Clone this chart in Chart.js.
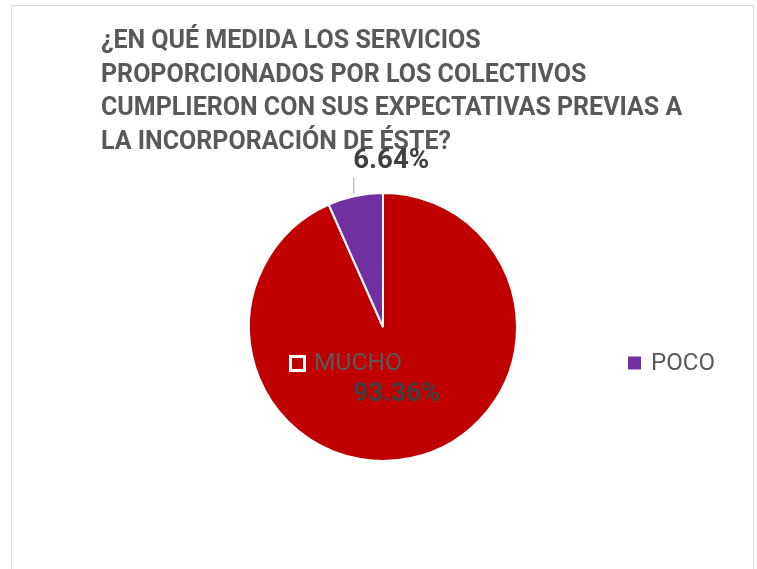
<!DOCTYPE html>
<html>
<head>
<meta charset="utf-8">
<script src="https://cdn.jsdelivr.net/npm/chart.js@4.4.1/dist/chart.umd.min.js"></script>
<style>
  html, body { margin: 0; padding: 0; background: #fff; }
  #wrap { position: relative; width: 757px; height: 569px; }
</style>
</head>
<body>
<div id="wrap"><canvas id="chartPie" width="757" height="569"></canvas></div>
<script>
// データ
const categories = ['MUCHO', 'POCO'];
const values = [93.36, 6.64];
const colors = ['#C00000', '#7030A0'];
const titleLines = [
  '¿EN QUÉ MEDIDA LOS SERVICIOS',
  'PROPORCIONADOS POR LOS COLECTIVOS',
  'CUMPLIERON CON SUS EXPECTATIVAS PREVIAS A',
  'LA INCORPORACIÓN DE ÉSTE?'
];

const FAMILY = 'Roboto, "Noto Sans", sans-serif';

// 幅に合わせてフォントサイズを決める
function fitFont(ctx, text, weight, width) {
  ctx.font = weight + ' 20px ' + FAMILY;
  const size = 20 * width / ctx.measureText(text).width;
  return weight + ' ' + size.toFixed(1) + 'px ' + FAMILY;
}

// 枠とタイトル
const framePlugin = {
  id: 'frame',
  beforeDraw(chart) {
    const ctx = chart.ctx;
    ctx.save();
    ctx.fillStyle = '#fff';
    ctx.fillRect(0, 0, chart.width, chart.height);
    ctx.strokeStyle = '#d9d9d9';
    ctx.lineWidth = 1;
    ctx.strokeRect(11.5, 5.5, 742, 600);
    ctx.font = fitFont(ctx, titleLines[2], 'bold', 582);
    ctx.fillStyle = '#595959';
    ctx.textBaseline = 'middle';
    ctx.textAlign = 'left';
    titleLines.forEach((line, i) => ctx.fillText(line, 101, 42 + i * 33.5));
    ctx.restore();
  }
};

// データラベルと凡例
const labelPlugin = {
  id: 'labels',
  afterDraw(chart) {
    const ctx = chart.ctx;
    const meta = chart.getDatasetMeta(0);
    ctx.save();
    meta.data.forEach((arc, i) => {
      const text = values[i].toFixed(2) + '%';
      ctx.fillStyle = '#404040';
      ctx.textBaseline = 'middle';
      const mid = (arc.startAngle + arc.endAngle) / 2;
      if (values[i] > 20) {
        const p = arc.getCenterPoint();
        ctx.font = fitFont(ctx, text, 'bold', 87);
        ctx.textAlign = 'center';
        ctx.fillText(text, p.x, p.y + 2);
      } else {
        const px = arc.x + Math.cos(mid) * arc.outerRadius;
        const py = arc.y + Math.sin(mid) * arc.outerRadius;
        ctx.strokeStyle = '#a6a6a6';
        ctx.lineWidth = 1;
        ctx.beginPath();
        ctx.moveTo(px - 1.5, py - 2);
        ctx.lineTo(px - 1.5, py - 18);
        ctx.stroke();
        ctx.font = fitFont(ctx, text, 'bold', 76);
        ctx.textAlign = 'left';
        ctx.fillText(text, px - 2, py - 35);
      }
    });

    // 凡例
    const ca = chart.chartArea;
    const ly = ca.top + ca.height / 2 + 36;
    ctx.textAlign = 'left';
    ctx.textBaseline = 'middle';
    // MUCHO
    let x = ca.left + 41;
    ctx.fillStyle = colors[0];
    ctx.fillRect(x, ly - 8, 17, 17);
    ctx.strokeStyle = '#ffffff';
    ctx.lineWidth = 3;
    ctx.strokeRect(x + 1.5, ly - 6.5, 14, 14);
    ctx.fillStyle = '#595959';
    ctx.font = fitFont(ctx, categories[0], 'normal', 88);
    ctx.fillText(categories[0], x + 25, ly + 1);
    // POCO
    x = ca.right + 110;
    ctx.fillStyle = colors[1];
    ctx.fillRect(x, ly - 6.5, 13, 13);
    ctx.fillStyle = '#595959';
    ctx.font = fitFont(ctx, categories[1], 'normal', 64);
    ctx.fillText(categories[1], x + 23, ly + 1);
    ctx.restore();
  }
};

new Chart(document.getElementById('chartPie'), {
  type: 'pie',
  data: {
    labels: categories,
    datasets: [{
      data: values,
      backgroundColor: colors,
      borderColor: '#ffffff',
      borderWidth: 2
    }]
  },
  options: {
    responsive: false,
    animation: false,
    layout: { padding: { top: 192, bottom: 107, left: 248, right: 239 } },
    plugins: {
      legend: { display: false },
      title: { display: false },
      tooltip: { enabled: false }
    }
  },
  plugins: [framePlugin, labelPlugin]
});
</script>
</body>
</html>
